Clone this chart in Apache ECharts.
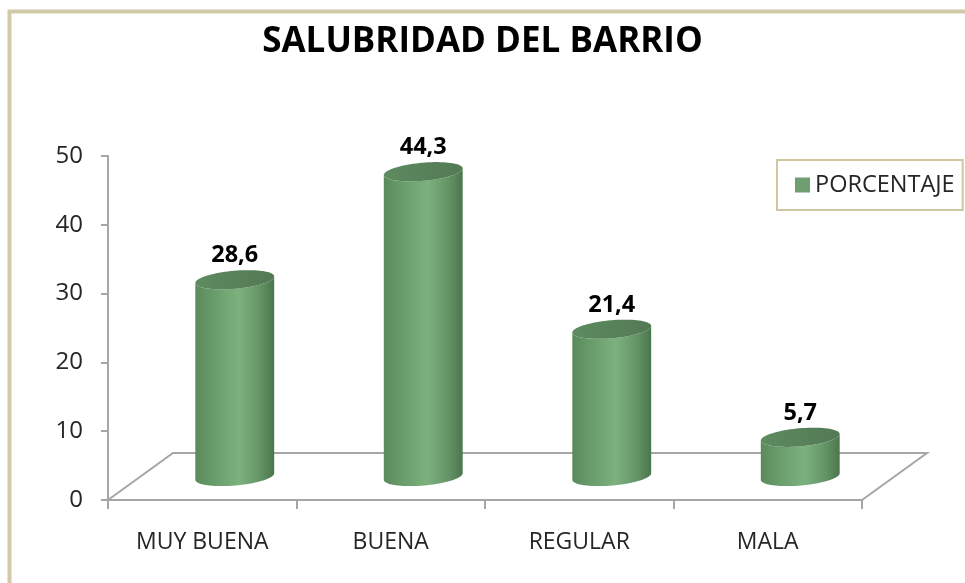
<!DOCTYPE html>
<html>
<head>
<meta charset="utf-8">
<title>Salubridad del barrio</title>
<script src="https://cdn.jsdelivr.net/npm/echarts@6/dist/echarts.min.js"></script>
<style>
  html, body { margin: 0; padding: 0; background: #ffffff; }
  #chart { width: 965px; height: 583px; }
</style>
</head>
<body>
<div id="chart"></div>
<script>
// Categories and percentage values
const categories = ['MUY BUENA', 'BUENA', 'REGULAR', 'MALA'];
const porcentaje = [28.6, 44.3, 21.4, 5.7];
const seriesName = 'PORCENTAJE';
const yMin = 0, yMax = 50, yStep = 10;

// Pseudo-3D depth of the floor (pixels) and cylinder styling
const DEPTH_X = 65, DEPTH_Y = -47;
const TILT = -5 * Math.PI / 180;
const FONT = '"Open Sans", "Liberation Sans", sans-serif';

function ellipsePoint(cx, cy, rx, ry, t) {
  const c = Math.cos(TILT), s = Math.sin(TILT);
  const ex = rx * Math.cos(t), ey = ry * Math.sin(t);
  return [cx + ex * c - ey * s, cy + ex * s + ey * c];
}

// Lower (front) arc of an ellipse, from the left end to the right end
function frontArc(cx, cy, rx, ry, n) {
  const pts = [];
  for (let k = 0; k <= n; k++) {
    pts.push(ellipsePoint(cx, cy, rx, ry, Math.PI - k * Math.PI / n));
  }
  return pts;
}

function renderCylinder(params, api) {
  const idx = api.value(0);
  const val = api.value(1);
  const base = api.coord([idx, 0]);
  const top = api.coord([idx, val]);
  const cx = base[0] + DEPTH_X / 2;
  const yb = base[1] + DEPTH_Y / 2;
  const yt = top[1] + DEPTH_Y / 2;
  const rx = api.size([1, 0])[0] * 0.21;
  const ry = 9;
  const N = 40;

  // body outline: bottom front arc, then top front arc reversed
  const bottomArc = frontArc(cx, yb, rx, ry, N);
  const topArc = frontArc(cx, yt, rx, ry, N).reverse();
  const body = bottomArc.concat(topArc);

  const topEllipse = [];
  for (let k = 0; k < 2 * N; k++) {
    topEllipse.push(ellipsePoint(cx, yt, rx, ry, k * Math.PI / N));
  }

  const label = val.toFixed(1).replace('.', ',');

  return {
    type: 'group',
    children: [
      {
        type: 'polygon',
        shape: { points: body },
        style: {
          fill: new echarts.graphic.LinearGradient(0, 0, 1, 0, [
            { offset: 0, color: '#5a8a5c' },
            { offset: 0.2, color: '#679a69' },
            { offset: 0.55, color: '#7cb17e' },
            { offset: 0.82, color: '#649466' },
            { offset: 1, color: '#4a764c' }
          ]),
          stroke: null
        }
      },
      {
        type: 'polygon',
        shape: { points: topEllipse },
        style: {
          fill: new echarts.graphic.LinearGradient(0, 0, 1, 0, [
            { offset: 0, color: '#5e8b60' },
            { offset: 1, color: '#527954' }
          ]),
          stroke: null
        }
      },
      {
        type: 'text',
        style: {
          text: label,
          x: cx,
          y: yt - 24,
          align: 'center',
          verticalAlign: 'middle',
          fontFamily: FONT,
          fontWeight: 'bold',
          fontSize: 23.5,
          fill: '#000000'
        }
      }
    ]
  };
}

// Floor parallelogram behind the category axis
function renderFloor(params, api) {
  const cs = params.coordSys;
  const y0 = api.coord([0, yMin])[1];
  const x0 = cs.x, x1 = cs.x + cs.width;
  return {
    type: 'polyline',
    shape: {
      points: [
        [x0, y0],
        [x0 + DEPTH_X, y0 + DEPTH_Y],
        [x1 + DEPTH_X, y0 + DEPTH_Y],
        [x1, y0]
      ]
    },
    style: { stroke: '#a6a6a6', lineWidth: 2, fill: null }
  };
}

const chart = echarts.init(document.getElementById('chart'), null, { renderer: 'canvas' });

chart.setOption({
  backgroundColor: '#ffffff',
  animation: false,
  graphic: [
    {
      type: 'rect',
      shape: { x: 9.5, y: 11.5, width: 1100, height: 700 },
      style: { fill: null, stroke: '#d2caa6', lineWidth: 4 },
      silent: true,
      z: -10
    }
  ],
  title: {
    text: 'SALUBRIDAD DEL BARRIO',
    left: 'center',
    top: 20,
    textStyle: {
      fontFamily: FONT,
      fontWeight: 'bold',
      fontSize: 35,
      color: '#000000'
    }
  },
  legend: {
    data: [{ name: seriesName, icon: 'rect' }],
    left: 777,
    top: 160,
    itemWidth: 15,
    itemHeight: 15,
    itemGap: 5,
    padding: [13, 8, 13, 18],
    borderColor: '#cfc7a2',
    borderWidth: 2,
    textStyle: { fontFamily: FONT, fontSize: 23.5, color: '#262626' }
  },
  grid: {
    left: 108,
    right: 103,
    top: 156,
    bottom: 83,
    containLabel: false
  },
  xAxis: {
    type: 'category',
    data: categories,
    boundaryGap: true,
    axisLine: { show: true, lineStyle: { color: '#a6a6a6', width: 2 } },
    axisTick: { show: true, length: 9, lineStyle: { color: '#a6a6a6', width: 2 } },
    axisLabel: {
      margin: 31,
      fontFamily: FONT,
      fontSize: 23,
      color: '#262626'
    },
    splitLine: { show: false }
  },
  yAxis: {
    type: 'value',
    min: yMin,
    max: yMax,
    interval: yStep,
    axisLine: { show: true, lineStyle: { color: '#a6a6a6', width: 2 } },
    axisTick: { show: true, length: 7, lineStyle: { color: '#a6a6a6', width: 2 } },
    axisLabel: {
      margin: 25,
      fontFamily: FONT,
      fontSize: 24,
      color: '#262626'
    },
    splitLine: { show: false }
  },
  series: [
    {
      type: 'custom',
      name: 'floor',
      renderItem: renderFloor,
      data: [[0, 0]],
      silent: true,
      z: 1
    },
    {
      type: 'custom',
      name: seriesName,
      renderItem: renderCylinder,
      itemStyle: { color: '#6f9f71' },
      encode: { x: 0, y: 1 },
      data: porcentaje.map((v, i) => [i, v]),
      z: 5
    }
  ]
});
</script>
</body>
</html>
